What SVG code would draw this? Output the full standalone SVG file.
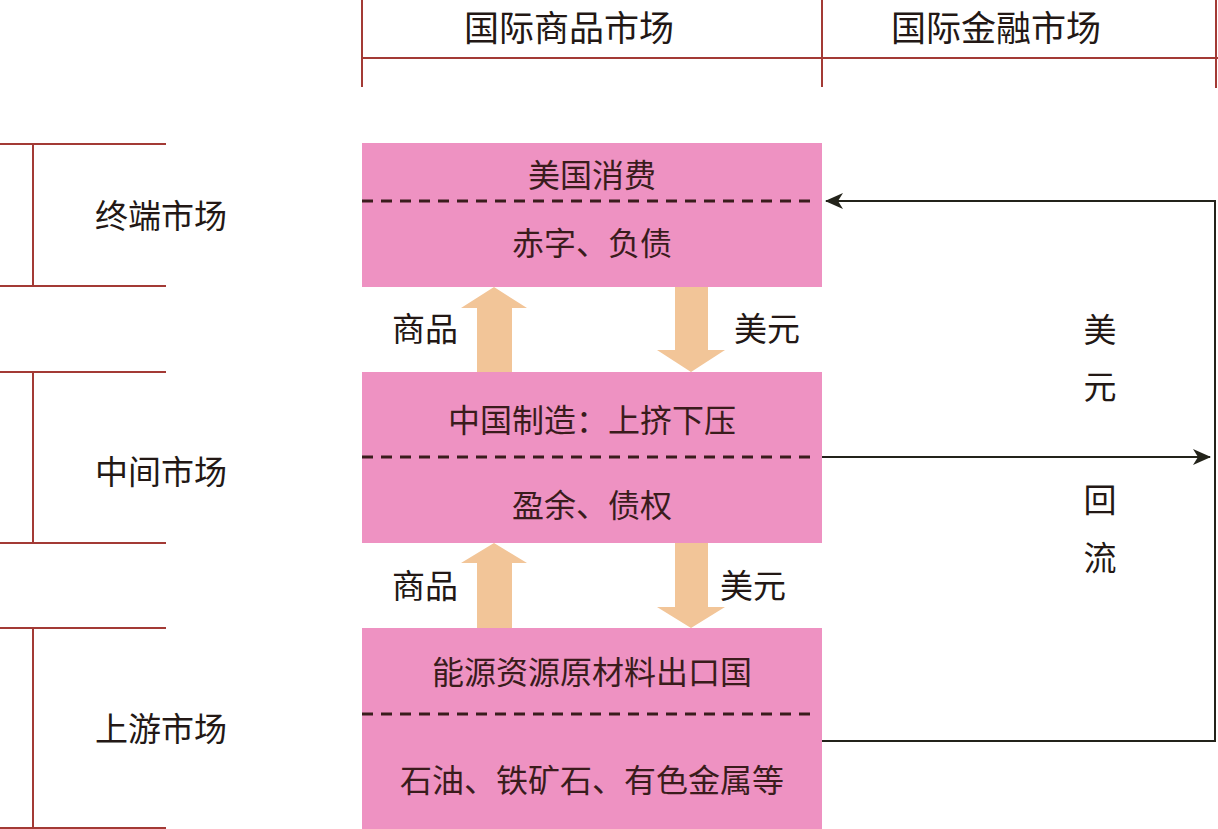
<svg xmlns="http://www.w3.org/2000/svg" width="1218" height="829" viewBox="0 0 1218 829">
<defs>
<style>
.t{font-family:"Noto Sans CJK SC","Noto Sans CJK JP",sans-serif;fill:#231815;text-anchor:middle}
.h{font-size:35px}
.m{font-size:33px}
.b{font-size:32px;fill:#3a1c1c}
.red{stroke:#a33a35;stroke-width:2;fill:none}
.box{fill:#ee92c2}
.dash{stroke:#3a1c1c;stroke-width:3;stroke-dasharray:11 8;fill:none}
.big{fill:#f2c598}
.con{stroke:#23231a;stroke-width:2;fill:none}
</style>
<marker id="ah" viewBox="0 0 18 16" refX="17" refY="8" markerWidth="18" markerHeight="16" markerUnits="userSpaceOnUse" orient="auto">
<path d="M0,0 L18,8 L0,16 L5,8 Z" fill="#23231a"/>
</marker>
</defs>
<rect width="1218" height="829" fill="#ffffff"/>
<g id="header">
<path class="red" d="M362,0 V87 M822,0 V87 M1216,0 V88 M362,58 H1218"/>
<text class="t h" x="569" y="41">国际商品市场</text>
<text class="t h" x="996" y="41">国际金融市场</text>
</g>
<g id="levels">
<g id="terminal">
<path class="red" d="M0,144 H166 M0,286 H166 M33,144 V286"/>
<text class="t m" x="161" y="228">终端市场</text>
</g>
<g id="middle">
<path class="red" d="M0,372 H166 M0,543 H166 M33,372 V543"/>
<text class="t m" x="161" y="484">中间市场</text>
</g>
<g id="upstream">
<path class="red" d="M0,628 H166 M0,828 H166 M33,628 V829"/>
<text class="t m" x="161" y="741">上游市场</text>
</g>
</g>
<g id="box-us">
<rect class="box" x="362" y="143" width="460" height="144"/>
<line class="dash" x1="362" y1="201" x2="816" y2="201"/>
<text class="t b" x="592" y="187">美国消费</text>
<text class="t b" x="592" y="255">赤字、负债</text>
</g>
<g id="box-china">
<rect class="box" x="362" y="372" width="460" height="171"/>
<line class="dash" x1="362" y1="457" x2="816" y2="457"/>
<text class="t b" x="592" y="432">中国制造：上挤下压</text>
<text class="t b" x="592" y="517">盈余、债权</text>
</g>
<g id="box-resource">
<rect class="box" x="362" y="628" width="460" height="201"/>
<line class="dash" x1="362" y1="714" x2="816" y2="714"/>
<text class="t b" x="592" y="684">能源资源原材料出口国</text>
<text class="t b" x="592" y="792">石油、铁矿石、有色金属等</text>
</g>
<g id="connectors">
<path class="big" d="M477,372 V308 H461 L494,287 L527,308 H512 V372 Z"/>
<path class="big" d="M675,287 V350 H657 L691,372 L725,350 H708 V287 Z"/>
<path class="big" d="M477,628 V563 H461 L494,543 L527,563 H512 V628 Z"/>
<path class="big" d="M675,543 V607 H657 L691,628 L725,607 H708 V543 Z"/>
<path class="con" d="M822,741 H1215 V201 H826" marker-end="url(#ah)"/>
<path class="con" d="M822,457 H1210" marker-end="url(#ah)"/>
<text class="t m" x="425" y="341">商品</text>
<text class="t m" x="767" y="341">美元</text>
<text class="t m" x="425" y="598">商品</text>
<text class="t m" x="753" y="598">美元</text>
<text class="t m" x="1100" y="342">美</text>
<text class="t m" x="1100" y="399">元</text>
<text class="t m" x="1100" y="512">回</text>
<text class="t m" x="1100" y="570">流</text>
</g>
</svg>
